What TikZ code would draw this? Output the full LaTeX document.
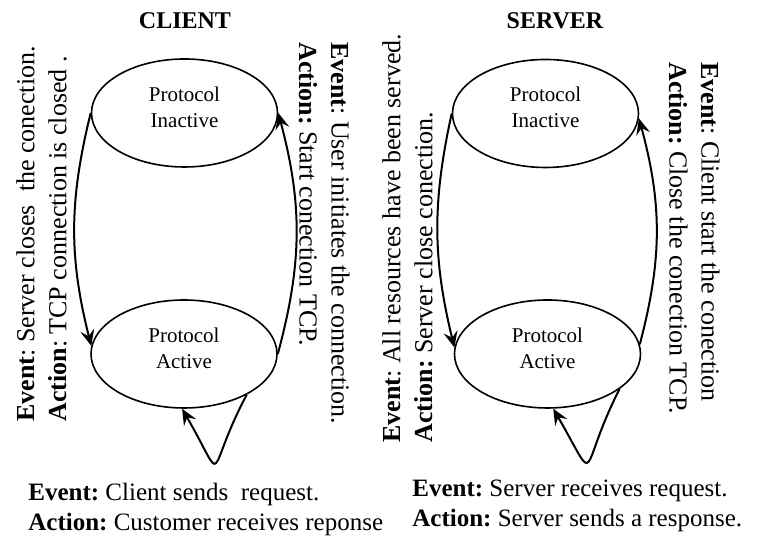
\documentclass[tikz,border=0pt]{standalone}
\usepackage{fontspec}
\setmainfont{Liberation Serif}
\frenchspacing
\usepackage{tikz}
\usetikzlibrary{shapes.geometric, arrows.meta}
\tikzstyle{state} = [
    draw, ellipse, line width=0.8pt,
    minimum width=93pt, minimum height=54pt, inner sep=0pt,
]
\tikzstyle{statetxt} = [align=center, font=\fontsize{10.5}{13}\selectfont, yshift=3pt]
\tikzstyle{side} = [align=left, inner sep=0pt, font=\fontsize{13}{16}\selectfont]
\tikzstyle{note} = [align=left, inner sep=0pt, anchor=north west, font=\fontsize{12.5}{15}\selectfont]
\tikzstyle{heading} = [font=\bfseries\fontsize{12}{14}\selectfont]
\tikzstyle{arrow} = [-{Stealth[length=8pt,width=7pt,inset=3pt]}, line width=1pt]

\begin{document}
\begin{tikzpicture}[x=0.5pt,y=0.5pt]
    \useasboundingbox (0,0) rectangle (757,539);

    % CLIENT
    \node[heading] (tC) at (185,518) {CLIENT};
    \node[state, label={[statetxt]center:Protocol\\Inactive}] (inC) at (184.5,426) {};
    \node[state, label={[statetxt]center:Protocol\\Active}] (acC) at (184,185) {};

    \node[side, rotate=90, anchor=north west] (sideCl) at (16,117)
        {\textbf{Event}: Server closes\ \ the conection.\\\textbf{Action}: TCP connection is closed .};
    \node[side, rotate=-90, anchor=north west] (sideCr) at (350,497)
        {\textbf{Event}: User initiates the connection.\\\textbf{Action:} Start conection TCP.};
    \node[note] (noteC) at (28,56)
        {\textbf{Event:} Client sends\ \ request.\\\textbf{Action:} Customer receives reponse};

    \draw[arrow] (inC.west) to[bend right=14] (acC.175);
    \draw[arrow] (acC.east) to[bend right=15] (inC.east);
    \draw[arrow] (acC.-33) .. controls +(-118:92) and +(-60:92) .. (acC.-92);

    % SERVER
    \node[heading] (tS) at (555,518) {SERVER};
    \node[state, label={[statetxt]center:Protocol\\Inactive}] (inS) at (545.5,425.5) {};
    \node[state, label={[statetxt]center:Protocol\\Active}] (acS) at (547.5,185) {};

    \node[side, rotate=90, anchor=north west] (sideSl) at (382,96)
        {\textbf{Event}: All resources have been served.\\\textbf{Action:} Server close conection.};
    \node[side, rotate=-90, anchor=north west] (sideSr) at (720,477)
        {\textbf{Event}: Client start the conection\\\textbf{Action:} Close the conection TCP.};
    \node[note] (noteS) at (412,59)
        {\textbf{Event:} Server receives request.\\\textbf{Action:} Server sends a response.};

    \draw[arrow] (inS.west) to[bend right=13] (acS.176);
    \draw[arrow] (acS.6) to[bend right=15] (inS.-3);
    \draw[arrow] (acS.-26) .. controls +(-117:94) and +(-60:94) .. (acS.-84);

\end{tikzpicture}
\end{document}
